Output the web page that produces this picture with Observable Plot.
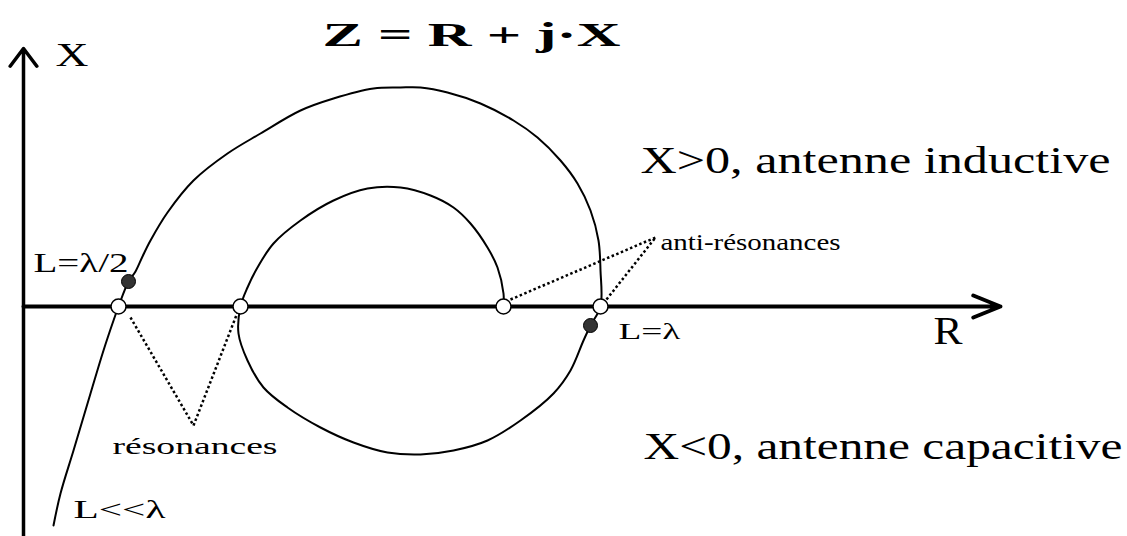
<!DOCTYPE html>
<html>
<head>
<meta charset="utf-8">
<script src="https://cdn.jsdelivr.net/npm/d3@7"></script>
<script src="https://cdn.jsdelivr.net/npm/@observablehq/plot@0.6"></script>
<style>
  body { margin: 0; background: #fff; }
</style>
</head>
<body>
<div id="chart"></div>
<script>
// Impedance locus Z = R + jX of a wire antenna as its length L grows,
// in arbitrary units (R to the right, X upward).

// Locus, from L << λ (strongly capacitive) spiralling inward
const locusR = [3.0, 3.7, 5.0, 6.7, 8.0, 9.0, 9.5, 10.5, 11.2, 11.9, 12.7, 14.4, 17.0, 20.4, 23.7, 27.7, 31.0,
  35.0, 37.7, 39.7, 42.4, 45.7, 49.0, 51.4, 53.7, 55.4, 56.7, 57.5, 57.7, 57.7, 56.7, 56.0, 54.7,
  53.0, 49.7, 46.4, 43.0, 39.7, 36.4, 33.0, 29.7, 26.4, 24.0, 22.4, 21.5, 21.7, 22.4, 23.4, 25.0,
  27.7, 31.0, 34.4, 37.7, 40.7, 43.0, 44.7, 46.4, 47.4, 48.0, 48.0];
const locusX = [-21.9, -18.7, -14.4, -8.7, -4.4, -1.4, 0, 2.5, 3.5, 5.0, 6.6, 9.4, 12.6, 15.3, 17.3, 19.6, 20.8,
  21.8, 21.9, 21.9, 21.4, 20.3, 18.6, 16.9, 14.6, 12.3, 9.6, 6.6, 3.6, 0, -1.9, -3.4, -6.4,
  -8.7, -11.4, -13.4, -14.4, -14.8, -14.6, -13.6, -12.1, -10.1, -8.1, -5.4, -2.7, 0, 1.9, 3.9, 6.3,
  8.6, 10.6, 11.8, 11.9, 11.1, 9.9, 8.3, 5.9, 3.9, 1.3, 0];

// Zero crossings of X
const resonanceR = [9.5, 21.7];
const antiResonanceR = [48.0, 57.7];

// Marked antenna lengths on the locus
const markedLength = ["L=λ/2", "L=λ"];
const markedR = [10.5, 56.7];
const markedX = [2.5, -1.9];

// Leader lines pointing at the crossings
const resonanceLeaderR1 = [10.7, 17.0];
const resonanceLeaderX1 = [-1.1, -11.9];
const resonanceLeaderR2 = [17.0, 21.4];
const resonanceLeaderX2 = [-11.9, -0.6];
const antiLeaderR1 = [48.7, 58.3];
const antiLeaderX1 = [0.7, 0.7];
const antiLeaderR2 = [63.2, 63.2];
const antiLeaderX2 = [6.9, 6.9];

// Axis extents
const axisR = [0, 97.7];
const axisX = [-23, 25.8];

// Annotations (anchored at the start of the baseline)
const titleText = ["Z = R + j·X"];
const labelText = ["X", "X>0, antenne inductive", "X<0, antenne capacitive", "R",
  "anti-résonances", "résonances", "L=λ/2", "L=λ", "L<<λ"];
const labelR = [3.2, 61.7, 62.0, 91.0, 63.7, 8.9, 1.0, 59.5, 5.0];
const labelX = [24.1, 13.4, -15.2, -3.7, 5.7, -14.7, 3.5, -3.2, -21.1];

// Typography of the annotations: font size and drawn width in px
const titleStyle = {size: 33, width: 298};
const labelSize = [33, 37, 38, 40, 23, 24, 27, 23, 26];
const labelWidth = [33, 470, 479, 29, 180, 165, 95, 62, 92];

const locus = locusR.map((r, i) => ({r, x: locusX[i]}));
const marked = markedLength.map((name, i) => ({name, r: markedR[i], x: markedX[i]}));
const crossings = [...resonanceR, ...antiResonanceR].map((r) => ({r, x: 0}));
const leaders = [
  ...resonanceLeaderR1.map((r, i) => ({r1: r, x1: resonanceLeaderX1[i], r2: resonanceLeaderR2[i], x2: resonanceLeaderX2[i]})),
  ...antiLeaderR1.map((r, i) => ({r1: r, x1: antiLeaderX1[i], r2: antiLeaderR2[i], x2: antiLeaderX2[i]}))
];
const labels = labelText.map((text, i) => ({text, r: labelR[i], x: labelX[i], size: labelSize[i]}));

const chart = Plot.plot({
  width: 1127,
  height: 536,
  marginLeft: 23,
  marginRight: 104,
  marginTop: 6,
  marginBottom: 0,
  x: {domain: [0, 100], axis: null},
  y: {domain: [-23, 30], axis: null},
  style: {background: "#fff", fontFamily: "'Liberation Serif', 'Times New Roman', serif", color: "#000"},
  marks: [
    // axes with arrow heads
    Plot.arrow([0], {x1: axisR[0], x2: axisR[0], y1: axisX[0], y2: axisX[1],
      stroke: "#000", strokeWidth: 3.5, headLength: 9.5, headAngle: 74}),
    Plot.arrow([0], {x1: axisR[0], x2: axisR[1], y1: 0, y2: 0,
      stroke: "#000", strokeWidth: 4, headLength: 11, headAngle: 44}),
    // dotted leaders to the crossings
    Plot.link(leaders, {x1: "r1", y1: "x1", x2: "r2", y2: "x2",
      stroke: "#000", strokeWidth: 2.5, strokeDasharray: "2.5,2.5"}),
    // impedance locus
    Plot.line(locus, {x: "r", y: "x", curve: "catmull-rom", stroke: "#000", strokeWidth: 2}),
    // crossings of the R axis
    Plot.dot(crossings, {x: "r", y: "x", r: 7.5, fill: "#fff", stroke: "#000", strokeWidth: 1.5}),
    // marked lengths
    Plot.dot(marked, {x: "r", y: "x", r: 7, fill: "#333", stroke: "#000", strokeWidth: 1}),
    // title
    Plot.text(titleText, {x: () => 29.9, y: () => 26.1, text: (d) => d, fontSize: titleStyle.size,
      fontWeight: "bold", textAnchor: "start", lineAnchor: "bottom", fill: "#000"}),
    // annotations
    Plot.text(labels, {x: "r", y: "x", text: "text", fontSize: "size",
      textAnchor: "start", lineAnchor: "bottom", fill: "#000"})
  ]
});

// Stretch each annotation to its drawn width
const widths = [titleStyle.width, ...labelWidth];
d3.select(chart).selectAll('g[aria-label="text"] text').each(function (d, k) {
  this.setAttribute("textLength", widths[k]);
  this.setAttribute("lengthAdjust", "spacingAndGlyphs");
});

document.getElementById("chart").append(chart);
</script>
</body>
</html>
